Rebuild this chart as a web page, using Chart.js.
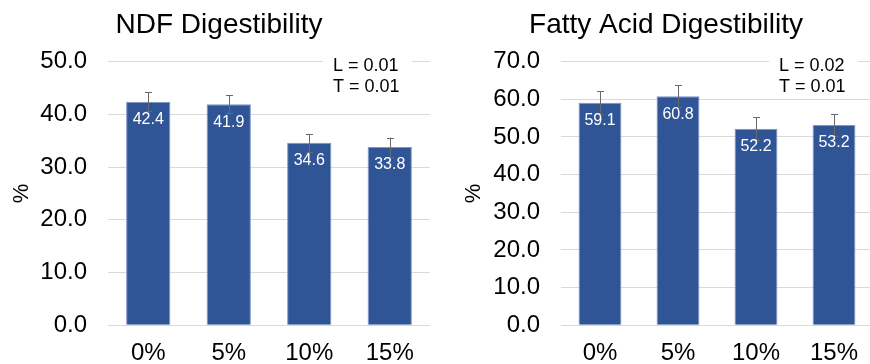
<!DOCTYPE html>
<html>
<head>
<meta charset="utf-8">
<script src="https://cdn.jsdelivr.net/npm/chart.js@4/dist/chart.umd.min.js"></script>
<style>
  html, body { margin: 0; padding: 0; overflow: hidden; background: #fff; }
  body { width: 870px; height: 364px; position: relative; }
  canvas { position: absolute; top: 0; }
  #ndf { left: 0; }
  #fa { left: 435px; }
</style>
</head>
<body>
<canvas id="ndf" width="438" height="364"></canvas>
<canvas id="fa" width="462" height="364"></canvas>
<script>
// Inclusion levels shared by both panels
const categories = ['0%', '5%', '10%', '15%'];

// NDF digestibility (%) with standard errors
const ndfValues = [42.4, 41.9, 34.6, 33.8];
const ndfErrors = [1.8, 1.7, 1.7, 1.8];
const ndfAxisMax = 50;
const ndfStats = ['L = 0.01', 'T = 0.01'];

// Fatty acid digestibility (%) with standard errors
const faValues = [59.1, 60.8, 52.2, 53.2];
const faErrors = [3.0, 2.9, 3.0, 2.9];
const faAxisMax = 70;
const faStats = ['L = 0.02', 'T = 0.01'];

const tickStep = 10;
const FONT = '"Liberation Sans", Arial, sans-serif';
Chart.defaults.font.family = FONT;
Chart.defaults.color = '#000';

// Vertical error bars with small caps, drawn over each bar
const errorBarPlugin = {
  id: 'errorBars',
  afterDatasetsDraw(chart, args, opts) {
    const { ctx } = chart;
    const yScale = chart.scales.y;
    const meta = chart.getDatasetMeta(0);
    const values = chart.data.datasets[0].data;
    const errs = opts.errors || [];
    ctx.save();
    ctx.strokeStyle = '#6A6A6A';
    ctx.lineWidth = 1;
    meta.data.forEach((bar, i) => {
      const e = errs[i];
      if (e == null) return;
      const x = Math.round(bar.x) + 0.5;
      const yHi = yScale.getPixelForValue(values[i] + e);
      const yLo = yScale.getPixelForValue(values[i] - e);
      ctx.beginPath();
      ctx.moveTo(x, yHi);
      ctx.lineTo(x, yLo);
      ctx.moveTo(x - 3.5, Math.round(yHi) + 0.5);
      ctx.lineTo(x + 3.5, Math.round(yHi) + 0.5);
      ctx.moveTo(x - 3.5, Math.round(yLo) + 0.5);
      ctx.lineTo(x + 3.5, Math.round(yLo) + 0.5);
      ctx.stroke();
    });
    ctx.restore();
  }
};

// White value labels just inside the top of each bar
const valueLabelPlugin = {
  id: 'valueLabels',
  afterDatasetsDraw(chart) {
    const { ctx } = chart;
    const meta = chart.getDatasetMeta(0);
    const values = chart.data.datasets[0].data;
    ctx.save();
    ctx.fillStyle = '#ffffff';
    ctx.font = '16px ' + FONT;
    ctx.textAlign = 'center';
    ctx.textBaseline = 'middle';
    meta.data.forEach((bar, i) => {
      ctx.fillText(values[i].toFixed(1), bar.x, bar.y + 18);
    });
    ctx.restore();
  }
};

// Contrast p-values in a white box at the upper right of the plot
const statsPlugin = {
  id: 'statsBox',
  afterDraw(chart, args, opts) {
    const { ctx, chartArea } = chart;
    const lines = opts.lines || [];
    const boxW = 89;
    const right = chartArea.right - (opts.inset || 16);
    const left = right - boxW;
    const top = chartArea.top - 10;
    ctx.save();
    ctx.fillStyle = '#ffffff';
    ctx.fillRect(left, top, boxW, 46);
    ctx.fillStyle = '#000';
    ctx.font = '18px ' + FONT;
    ctx.textAlign = 'left';
    ctx.textBaseline = 'middle';
    lines.forEach((t, i) => {
      ctx.fillText(t, left + 10, chartArea.top + 4 + i * 21);
    });
    ctx.restore();
  }
};

function buildChart(canvasId, title, values, errors, axisMax, stats, yAxisWidth, yTitlePad, rightPad, statsInset) {
  return new Chart(document.getElementById(canvasId), {
    type: 'bar',
    data: {
      labels: categories,
      datasets: [{
        data: values,
        backgroundColor: '#2F5597',
        borderColor: '#7F97CB',
        borderWidth: 1,
        barPercentage: 0.55,
        categoryPercentage: 1.0
      }]
    },
    options: {
      responsive: false,
      animation: false,
      devicePixelRatio: 1,
      layout: { padding: 0 },
      plugins: {
        legend: { display: false },
        tooltip: { enabled: false },
        title: {
          display: true,
          text: title,
          color: '#000',
          font: { size: 28, weight: 'normal', family: FONT },
          padding: { top: 8, bottom: 20 }
        },
        errorBars: { errors: errors },
        statsBox: { lines: stats, inset: statsInset }
      },
      scales: {
        x: {
          grid: { display: false, drawTicks: false },
          border: { display: false },
          ticks: { font: { size: 24 }, color: '#000', padding: 14 },
          afterFit(s) { s.height = 38.7; }
        },
        y: {
          min: 0,
          max: axisMax,
          ticks: {
            stepSize: tickStep,
            padding: 21,
            font: { size: 24 },
            color: '#000',
            callback: v => Number(v).toFixed(1)
          },
          grid: { color: '#D9D9D9', lineWidth: 1, drawTicks: false },
          border: { display: false },
          title: {
            display: true,
            text: '%',
            color: '#000',
            font: { size: 22 },
            padding: { top: yTitlePad, bottom: 0 }
          },
          afterFit(s) { s.width = yAxisWidth; }
        },
        pad: {
          type: 'linear',
          position: 'right',
          display: true,
          grid: { display: false, drawTicks: false },
          border: { display: false },
          ticks: { display: false },
          afterFit(s) { s.width = rightPad; }
        }
      }
    },
    plugins: [errorBarPlugin, valueLabelPlugin, statsPlugin]
  });
}

buildChart('ndf', 'NDF Digestibility', ndfValues, ndfErrors, ndfAxisMax, ndfStats, 108, 9, 8, 18);
buildChart('fa', 'Fatty Acid Digestibility', faValues, faErrors, faAxisMax, faStats, 126, 26, 24, 15);
</script>
</body>
</html>
